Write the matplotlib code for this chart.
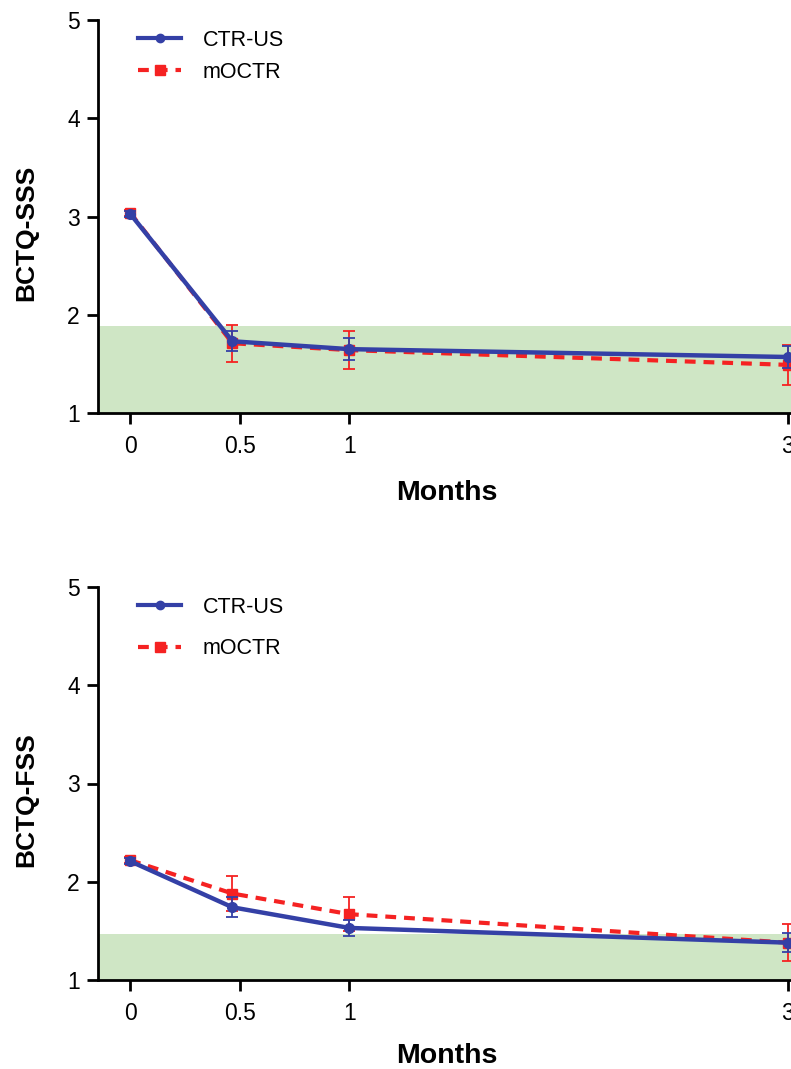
import matplotlib
matplotlib.use("Agg")
import matplotlib.pyplot as plt
from matplotlib.lines import Line2D

plt.rcParams['font.family'] = ['Liberation Sans', 'DejaVu Sans']

months = [0, 0.467, 1, 3]
xticks = [0, 0.5, 1, 3]
xtick_labels = ["0", "0.5", "1", "3"]
yticks = [1, 2, 3, 4, 5]

sss_ctr_mean = [3.03, 1.73, 1.65, 1.57]
sss_ctr_err = [0.03, 0.10, 0.11, 0.11]
sss_moctr_mean = [3.04, 1.71, 1.64, 1.49]
sss_moctr_err = [0.03, 0.19, 0.19, 0.20]
sss_band = 1.89

fss_ctr_mean = [2.21, 1.74, 1.53, 1.38]
fss_ctr_err = [0.03, 0.10, 0.08, 0.10]
fss_moctr_mean = [2.22, 1.88, 1.67, 1.38]
fss_moctr_err = [0.03, 0.18, 0.17, 0.19]
fss_band = 1.47

series_names = ["CTR-US", "mOCTR"]
ylabels = ["BCTQ-SSS", "BCTQ-FSS"]

BLUE = "#3440A6"
RED = "#F52222"
GREEN = "#CFE6C5"
DASH = (0, (2.6, 1.9))

fig = plt.figure(figsize=(7.91, 10.69), dpi=100)
W, H = 791, 1069
left = 98 / W
width = 1 - left
axes_specs = [(1 - 413 / H, 393 / H), (1 - 980 / H, 393 / H)]

panels = [
    (sss_ctr_mean, sss_ctr_err, sss_moctr_mean, sss_moctr_err, sss_band, ylabels[0], 0.5, -0.221),
    (fss_ctr_mean, fss_ctr_err, fss_moctr_mean, fss_moctr_err, fss_band, ylabels[1], 0.95, -0.212),
]

for (b, h), (cm, ce, mm, me, band, ylab, lspace, mon_y) in zip(axes_specs, panels):
    ax = fig.add_axes([left, b, width, h])
    ax.set_xlim(-0.146, 3.014)
    ax.set_ylim(1, 5)
    ax.axhspan(1, band, color=GREEN, zorder=0, lw=0)

    ax.errorbar(months, mm, yerr=me, color=RED, lw=3, ls=DASH,
                marker='s', ms=7, capsize=4, elinewidth=1.3, capthick=1.3,
                ecolor=RED, zorder=3)
    ax.errorbar(months, cm, yerr=ce, color=BLUE, lw=3.2, marker='o', ms=7,
                capsize=4, elinewidth=1.3, capthick=1.3, ecolor=BLUE,
                zorder=4)

    ax.spines['top'].set_visible(False)
    ax.spines['right'].set_visible(False)
    ax.spines['left'].set_linewidth(2)
    ax.spines['bottom'].set_linewidth(2)
    ax.set_xticks(xticks)
    ax.set_xticklabels(xtick_labels)
    ax.set_yticks(yticks)
    ax.tick_params(axis='both', direction='out', length=8, width=2,
                   labelsize=16.5, pad=5)
    ax.tick_params(axis='x', pad=8)

    ax.text(-0.104, 0.458, ylab, transform=ax.transAxes, rotation=90,
            ha='center', va='center', fontsize=19, fontweight='bold')
    ax.text(0.504, mon_y, "Months", transform=ax.transAxes, ha='center',
            va='baseline', fontsize=20.5, fontweight='bold')

    handles = [
        Line2D([], [], color=BLUE, lw=3, marker='o', ms=6),
        Line2D([], [], color=RED, lw=3, ls=DASH, marker='s', ms=7),
    ]
    ax.legend(handles, series_names,
              loc='upper left', bbox_to_anchor=(0.058, 0.975), frameon=False,
              fontsize=15.5, handlelength=2.0, handletextpad=1.0,
              labelspacing=lspace, borderpad=0, borderaxespad=0)

fig.savefig("out.png", dpi=100)
